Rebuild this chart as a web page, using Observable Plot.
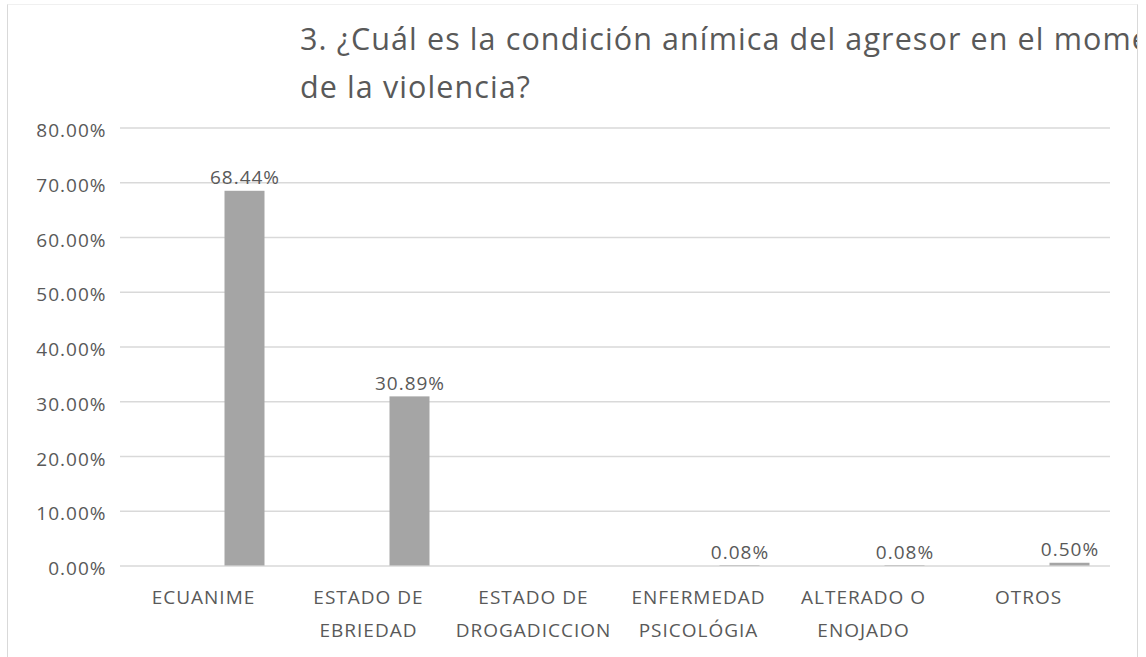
<!DOCTYPE html>
<html>
<head>
<meta charset="utf-8">
<script src="https://cdn.jsdelivr.net/npm/d3@7"></script>
<script src="https://cdn.jsdelivr.net/npm/@observablehq/plot@0.6"></script>
<style>
  html, body { margin: 0; padding: 0; background: #fff; overflow: hidden; }
  #wrap { position: relative; width: 1146px; height: 657px; overflow: hidden; background: #fff; }
  #frame { position: absolute; left: 7px; top: 4px; width: 1131px; height: 670px;
           border-left: 1.5px solid #d9d9d9; border-right: 1.5px solid #d9d9d9; border-top: 1px solid #f0f0f0; box-sizing: border-box; }
  #titleClip { position: absolute; left: 0; top: 0; width: 1137px; height: 115px; overflow: hidden; }
  #title { position: absolute; left: 300px; top: 14px; white-space: nowrap;
           font-family: "Open Sans", sans-serif; font-size: 30.5px; line-height: 48px;
           color: #595959; letter-spacing: 1.1px; }
  #chart { position: absolute; left: 0; top: 100px; }
</style>
</head>
<body>
<div id="wrap">
  <div id="frame"></div>
  <div id="titleClip"><div id="title"></div></div>
  <div id="chart"></div>
</div>
<script>
const titleLines = ["3. ¿Cuál es la condición anímica del agresor en el momento", "de la violencia?"];
const categories = ["ECUANIME", "ESTADO DE\nEBRIEDAD", "ESTADO DE\nDROGADICCION", "ENFERMEDAD\nPSICOLÓGIA", "ALTERADO O\nENOJADO", "OTROS"];
const values = [68.44, 30.89, null, 0.08, 0.08, 0.50];
const yTicks = [0, 10, 20, 30, 40, 50, 60, 70, 80];

document.getElementById("title").innerHTML = titleLines.join("<br>");

const data = categories.map((c, i) => ({cat: c, value: values[i]})).filter(d => d.value != null);
const fmt = v => v.toFixed(2) + "%";

const chart = Plot.plot({
  width: 1146,
  height: 557,
  marginLeft: 120,
  marginRight: 36,
  marginTop: 27.5,
  marginBottom: 91.5,
  style: {fontFamily: "'Open Sans', sans-serif", fontSize: "19px", color: "#595959", background: "transparent", letterSpacing: "1px"},
  x: {domain: categories, paddingInner: 0.7576, paddingOuter: 0.3788, label: null},
  y: {domain: [0, 80], label: null},
  marks: [
    Plot.gridY(yTicks, {stroke: "#d9d9d9", strokeOpacity: 1, strokeWidth: 1.5}),
    Plot.axisY(yTicks, {tickSize: 0, tickPadding: 14, tickFormat: fmt, fontSize: 19, dy: 3, label: null}),
    Plot.axisX({tickSize: 0, tickPadding: 14, fontSize: 19, lineHeight: 1.75, label: null, style: "letter-spacing:0.4px"}),
    Plot.barY(data, {x: "cat", y: "value", fill: "#a5a5a5", dx: 41.5}),
    Plot.text(data, {x: "cat", y: "value", text: d => fmt(d.value), dy: -13, dx: 41.5, fill: "#595959", fontSize: 19})
  ]
});
document.getElementById("chart").appendChild(chart);
</script>
</body>
</html>
